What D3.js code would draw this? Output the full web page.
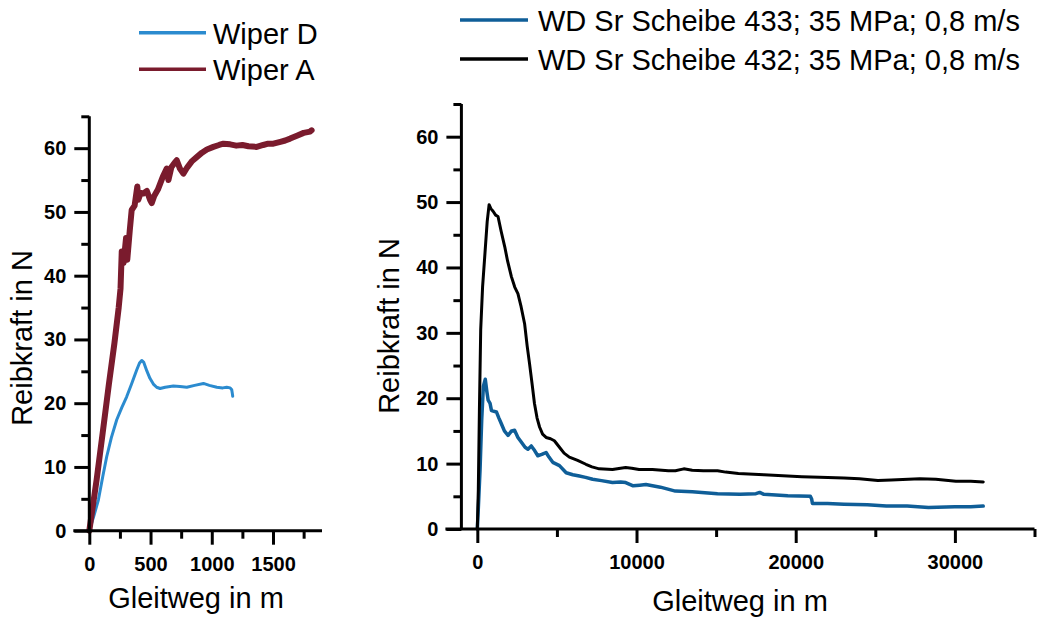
<!DOCTYPE html>
<html>
<head>
<meta charset="utf-8">
<script src="https://cdn.jsdelivr.net/npm/d3@7"></script>
<style>
  body { margin: 0; background: #fff; }
  svg { display: block; font-family: "Liberation Sans", Arial, sans-serif; }
</style>
</head>
<body>
<svg id="chart" width="1041" height="619"></svg>
<script>
// Datos: [Gleitweg m, Reibkraft N]
const wiperD = [[0,0],[40,2.5],[74,4.8],[110,8.5],[142,11.6],[180,14.6],[224,17.4],[265,19.3],[305,21],[345,23],[387,25.2],[410,26.3],[428,26.7],[445,26.4],[469,25.1],[495,23.9],[523,23],[550,22.5],[578,22.3],[620,22.5],[686,22.7],[740,22.6],[796,22.5],[860,22.8],[932,23.1],[980,22.8],[1041,22.5],[1090,22.4],[1122,22.5],[1150,22.4],[1163,22.1],[1168,21.5],[1171,21.1]];

const wiperA = [[0,0],[60,8],[109,15.3],[160,23],[205,29.4],[240,35],[255,38],[265,43.8],[280,42],[300,45.9],[310,42.5],[330,47],[346,50.3],[370,51],[392,54],[400,51.9],[420,53],[441,52.9],[470,53.3],[496,51.9],[510,51.4],[530,52.5],[560,53.5],[600,55.5],[632,56.8],[646,55],[670,57],[700,57.8],[714,58.1],[740,56.8],[768,56],[800,57],[840,58],[877,58.6],[920,59.3],[960,59.8],[1013,60.2],[1060,60.5],[1095,60.7],[1150,60.6],[1200,60.4],[1250,60.5],[1300,60.3],[1367,60.2],[1420,60.5],[1460,60.7],[1503,60.7],[1560,61],[1600,61.2],[1640,61.5],[1700,62],[1750,62.4],[1803,62.6],[1815,62.8]];

const scheibe433 = [[0,0],[60,3],[170,9],[276,16.7],[380,21.8],[500,22.9],[600,21],[680,19.7],[800,19.2],[890,18.1],[1200,17.9],[1350,17],[1510,16.1],[1700,15],[1930,14.3],[2150,15],[2340,15.1],[2550,14],[2760,13.3],[3000,12.5],[3180,12.2],[3390,12.7],[3600,12],[3800,11.2],[4050,11.4],[4320,11.7],[4500,11],[4740,10.2],[5160,9.7],[5580,8.6],[6000,8.3],[6410,8.1],[6800,7.9],[7240,7.6],[7800,7.4],[8490,7.1],[9000,7.2],[9320,7.1],[9790,6.6],[10200,6.7],[10590,6.8],[11500,6.4],[12440,5.8],[13500,5.7],[15090,5.4],[16500,5.3],[17500,5.4],[17740,5.6],[18000,5.3],[19500,5.1],[20920,5.0],[21000,4.6],[21050,3.9],[22000,3.9],[23030,3.8],[24500,3.7],[25690,3.5],[27000,3.5],[28340,3.3],[30000,3.4],[31000,3.4],[31780,3.5]];

const scheibe432 = [[0,0],[63,6],[130,18],[213,30.5],[330,37],[484,42.3],[620,47],[740,49.6],[850,49],[990,48.6],[1150,48],[1300,47.8],[1500,45.5],[1720,43.2],[1900,41],[2140,38.6],[2350,37],[2550,36],[2750,34],[2970,31.4],[3130,28],[3280,25.3],[3450,22],[3590,19.2],[3750,17],[3910,15.6],[4100,14.5],[4320,14],[4600,13.8],[4840,13.5],[5000,13],[5160,12.5],[5450,11.6],[5780,11],[6300,10.5],[6820,9.9],[7200,9.5],[7660,9.2],[8490,9.1],[9000,9.3],[9320,9.4],[9700,9.3],[10160,9.1],[11000,9.1],[12000,8.9],[12440,8.9],[12970,9.2],[13500,9.0],[14200,8.9],[15090,8.9],[15600,8.7],[16400,8.5],[18000,8.3],[20390,8.0],[21500,7.9],[23030,7.8],[24000,7.7],[25160,7.4],[26000,7.5],[27800,7.7],[28800,7.6],[30060,7.3],[31000,7.3],[31780,7.2]];

const yTicks = [0, 10, 20, 30, 40, 50, 60];
const yMinor = [5, 15, 25, 35, 45, 55, 65];
const xTicksLeft = [0, 500, 1000, 1500];
const xMinorLeft = [250, 750, 1250, 1750];
const xTicksRight = [0, 10000, 20000, 30000];
const xMinorRight = [5000, 15000, 25000, 35000];

const legendLeft = ["Wiper D", "Wiper A"];
const legendRight = ["WD Sr Scheibe 433; 35 MPa; 0,8 m/s", "WD Sr Scheibe 432; 35 MPa; 0,8 m/s"];

const svg = d3.select("#chart");

function drawPanel(cfg) {
  const x = d3.scaleLinear().domain(cfg.xDomain).range(cfg.xRange);
  const y = d3.scaleLinear().domain([0, 65]).range(cfg.yRange);
  const g = svg.append("g");
  const x0 = cfg.xRange[0];
  const yBase = cfg.yRange[0];

  // lineas de datos
  const line = d3.line().x(d => x(d[0])).y(d => y(d[1]));
  cfg.series.forEach(s => {
    g.append("path")
      .attr("d", line(s.data))
      .attr("fill", "none")
      .attr("stroke", s.color)
      .attr("stroke-width", s.width)
      .attr("stroke-linejoin", "round")
      .attr("stroke-linecap", "round");
  });

  // eje x
  g.append("g").attr("transform", `translate(0,${yBase})`)
    .call(d3.axisBottom(x).tickValues(cfg.xTicks).tickSize(14).tickPadding(12).tickFormat(d3.format("d")));
  g.append("g").attr("transform", `translate(0,${yBase})`)
    .call(d3.axisBottom(x).tickValues(cfg.xMinor).tickSize(8).tickFormat(""));

  // eje y
  g.append("g").attr("transform", `translate(${x0},0)`)
    .call(d3.axisLeft(y).tickValues(yTicks).tickSize(15).tickPadding(8));
  g.append("g").attr("transform", `translate(${x0},0)`)
    .call(d3.axisLeft(y).tickValues(yMinor).tickSize(8).tickFormat(""));

  g.selectAll(".domain").remove();
  g.selectAll(".tick line").attr("stroke", "#000").attr("stroke-width", 3);
  g.selectAll(".tick text")
    .attr("fill", "#000")
    .attr("font-family", "Liberation Sans, Arial, sans-serif")
    .attr("font-size", 20)
    .attr("font-weight", "bold");

  g.append("line")
    .attr("x1", x0 - 16).attr("x2", cfg.xRange[1])
    .attr("y1", yBase).attr("y2", yBase)
    .attr("stroke", "#000").attr("stroke-width", 3);
  g.append("line")
    .attr("x1", x0).attr("x2", x0)
    .attr("y1", yBase).attr("y2", cfg.yRange[1])
    .attr("stroke", "#000").attr("stroke-width", 3);

  // titulos
  g.append("text")
    .attr("x", cfg.xTitle[0]).attr("y", cfg.xTitle[1])
    .attr("text-anchor", "middle").attr("font-size", 29)
    .text("Gleitweg in m");
  g.append("text")
    .attr("transform", `translate(${cfg.yTitle[0]},${cfg.yTitle[1]}) rotate(-90)`)
    .attr("text-anchor", "middle").attr("font-size", 29)
    .text("Reibkraft in N");

  // leyenda
  cfg.series.forEach((s, i) => {
    const ly = cfg.legend.y[i];
    g.append("line")
      .attr("x1", cfg.legend.x1).attr("x2", cfg.legend.x2)
      .attr("y1", ly).attr("y2", ly)
      .attr("stroke", s.color).attr("stroke-width", 3.5);
    g.append("text")
      .attr("x", cfg.legend.tx).attr("y", ly + 11)
      .attr("font-size", 29)
      .text(s.name);
  });
}

drawPanel({
  xDomain: [0, 1900], xRange: [89.3, 322],
  yRange: [530.7, 116.3],
  xTicks: xTicksLeft, xMinor: xMinorLeft,
  xTitle: [196, 608], yTitle: [32, 338],
  legend: { x1: 139, x2: 206, tx: 213, y: [32.7, 69.3] },
  series: [
    { name: legendLeft[0], data: wiperD, color: "#2b8bcf", width: 3 },
    { name: legendLeft[1], data: wiperA, color: "#7a1b2d", width: 6 }
  ]
});

drawPanel({
  xDomain: [-1000, 35000], xRange: [461.4, 1034.5],
  yRange: [529, 104],
  xTicks: xTicksRight, xMinor: xMinorRight,
  xTitle: [740, 611], yTitle: [399, 326],
  legend: { x1: 460, x2: 528, tx: 538, y: [20, 59] },
  series: [
    { name: legendRight[0], data: scheibe433, color: "#0f5e98", width: 3.5 },
    { name: legendRight[1], data: scheibe432, color: "#000", width: 3 }
  ]
});
</script>
</body>
</html>
